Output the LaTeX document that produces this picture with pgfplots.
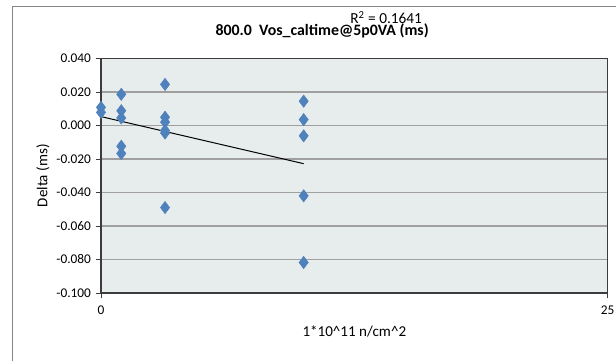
\documentclass[border=0pt]{standalone}
\usepackage{fontspec}
\setmainfont{Carlito}
\usepackage{pgfplots}
\pgfplotsset{compat=1.18}
\definecolor{ptblue}{RGB}{79,129,189}
\definecolor{plotbg}{RGB}{231,236,236}
\definecolor{gridc}{RGB}{160,160,160}
\definecolor{axc}{RGB}{60,60,60}
\definecolor{borderc}{RGB}{134,134,134}
\begin{document}
\begin{tikzpicture}
\path[use as bounding box] (0pt,0pt) rectangle (462pt,270pt);
\draw[borderc, line width=0.75pt] (9pt,-1pt) -- (9pt,264.75pt) -- (463pt,264.75pt);
\begin{axis}[
  at={(75.75pt,50.25pt)}, anchor=south west,
  scale only axis, width=380pt, height=175.9pt,
  xmin=0, xmax=25, ymin=-0.1, ymax=0.04,
  xtick={0,25}, ytick={-0.1,-0.08,-0.06,-0.04,-0.02,0,0.02,0.04},
  ymajorgrids, major grid style={gridc, line width=1.1pt},
  axis background/.style={fill=plotbg},
  axis line style={axc, line width=1.1pt},
  tick style={axc, line width=0.6pt},
  tick align=outside, major tick length=4pt,
  xtick pos=bottom, ytick pos=left,
  /pgf/number format/assume math mode=true,
  yticklabel style={/pgf/number format/.cd, fixed, zerofill, precision=3},
  xticklabel style={yshift=-2pt},
  ticklabel style={font=\fontsize{10}{12}\selectfont},
  xlabel={1*10\textasciicircum{}11 n/cm\textasciicircum{}2},
  ylabel={Delta (ms)},
  label style={font=\fontsize{11.3}{13}\selectfont},
  xlabel style={at={(axis description cs:0.5,0)}, anchor=base, yshift=-32.25pt},
  ylabel style={at={(axis description cs:-0.1145,0.5)}, anchor=center},
  clip=false,
]
\addplot[only marks, mark=diamond*, mark size=4.6pt, mark options={fill=ptblue, draw=ptblue}] coordinates {
 (0,0.0108) (0,0.0078)
 (1,0.0186) (1,0.0088) (1,0.0045) (1,-0.0124) (1,-0.0167)
 (3.16,0.0245) (3.16,0.0049) (3.16,0.0020) (3.16,-0.0030) (3.16,-0.0045) (3.16,-0.0490)
 (10,0.0145) (10,0.0035) (10,-0.0062) (10,-0.0420) (10,-0.0818)
};
\addplot[black, line width=0.75pt] coordinates {(0,0.0053) (10,-0.0228)};
\end{axis}
\node[anchor=base east, font=\bfseries\fontsize{11.9}{14}\selectfont, inner sep=0] at (321.75pt,243pt) {800.0\ \ Vos\_caltime@5p0VA (ms)};
\node[anchor=base west, font=\fontsize{11.5}{14}\selectfont, inner sep=0] at (262.5pt,252pt) {R\textsuperscript{2} = 0.1641};
\end{tikzpicture}
\end{document}
